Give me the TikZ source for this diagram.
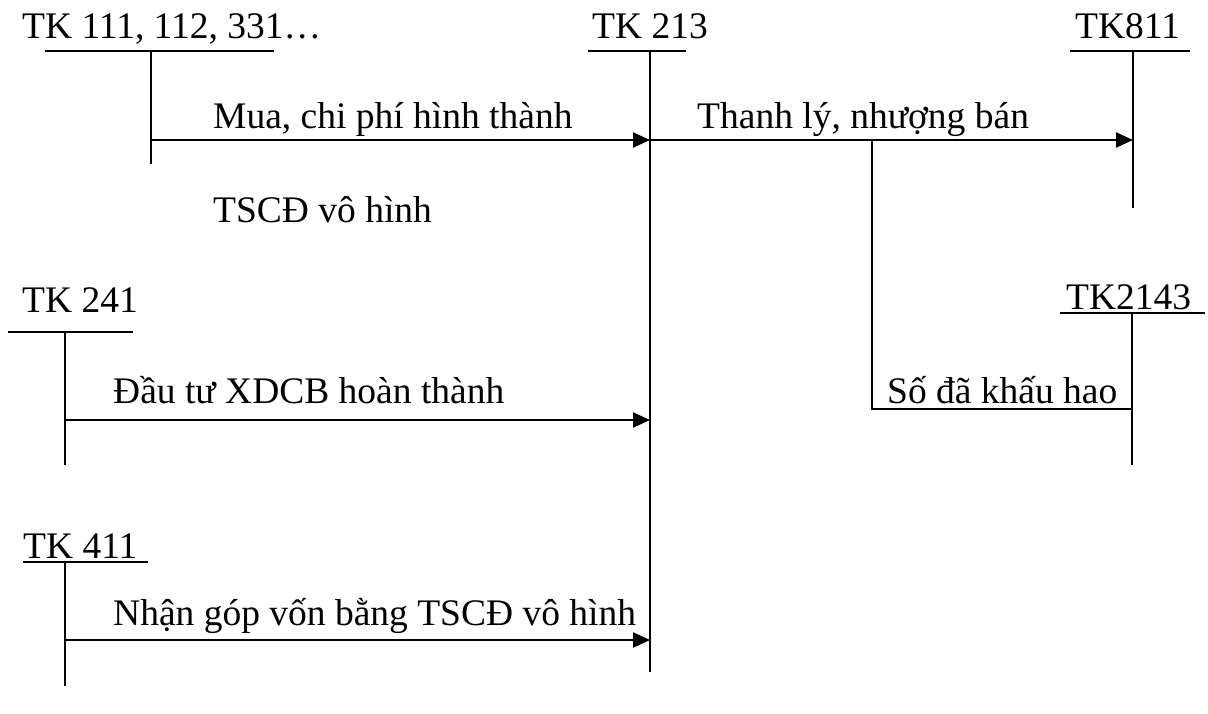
\documentclass[tikz,border=0pt]{standalone}
\usepackage{fontspec}
\setmainfont{Liberation Serif}
\usetikzlibrary{arrows.meta}
\tikzset{
  acct/.style={inner sep=0pt, anchor=base west, font=\fontsize{37.5}{44}\selectfont},
  ln/.style={line width=2pt},
  arr/.style={line width=2.4pt, -{Triangle[length=17pt,width=15pt]}}
}
\begin{document}
\begin{tikzpicture}[x=1pt,y=-1pt]
\useasboundingbox (0,0) rectangle (1208,713);

% account titles
\node[acct] (t111)  at (22,38)   {TK 111, 112, 331…};
\node[acct] (t213)  at (592,38)  {TK 213};
\node[acct] (t811)  at (1075,38) {TK811};
\node[acct] (t241)  at (22,312)  {TK 241};
\node[acct] (t2143) at (1066,309) {TK2143};
\node[acct] (t411)  at (23,558)  {TK 411};

% T-account skeletons
\coordinate (h111a) at (45,51);   \coordinate (h111b) at (274,51);
\coordinate (v111a) at (151,51);  \coordinate (v111b) at (151,164);
\coordinate (h213a) at (588,51);  \coordinate (h213b) at (686,51);
\coordinate (v213a) at (650,51);  \coordinate (v213b) at (650,672);
\coordinate (h811a) at (1070,51); \coordinate (h811b) at (1190,51);
\coordinate (v811a) at (1133,51); \coordinate (v811b) at (1133,208);
\coordinate (h241a) at (8,332);   \coordinate (h241b) at (133,332);
\coordinate (v241a) at (65,332);  \coordinate (v241b) at (65,465);
\coordinate (h2143a) at (1060,313); \coordinate (h2143b) at (1205,313);
\coordinate (v2143a) at (1132,313); \coordinate (v2143b) at (1132,465);
\coordinate (h411a) at (23,562);  \coordinate (h411b) at (148,562);
\coordinate (v411a) at (65,562);  \coordinate (v411b) at (65,686);

\foreach \p in {111,213,811,241,2143,411}{
  \draw[ln] (h\p a) -- (h\p b);
  \draw[ln] (v\p a) -- (v\p b);
}

% entries
\draw[arr] (v111a |- 0,140) -- (v213a |- 0,140);
\node[acct] (l1)  at (213,128) {Mua, chi phí hình thành};
\node[acct] (l1b) at (213,222) {TSCĐ vô hình};

\draw[arr] (v213a |- 0,140) -- (v811a |- 0,140);
\node[acct] (l2) at (697,128) {Thanh lý, nhượng bán};

\coordinate (br1) at (872,140);
\coordinate (br2) at (872,409);
\draw[ln] (br1) -- (br2) -- (v2143a |- br2);
\node[acct] (l5) at (887,403) {Số đã khấu hao};

\draw[arr] (v241a |- 0,420) -- (v213a |- 0,420);
\node[acct] (l3) at (113,403) {Đầu tư XDCB hoàn thành};

\draw[arr] (v411a |- 0,640) -- (v213a |- 0,640);
\node[acct] (l4) at (113,625) {Nhận góp vốn bằng TSCĐ vô hình};
\end{tikzpicture}
\end{document}
